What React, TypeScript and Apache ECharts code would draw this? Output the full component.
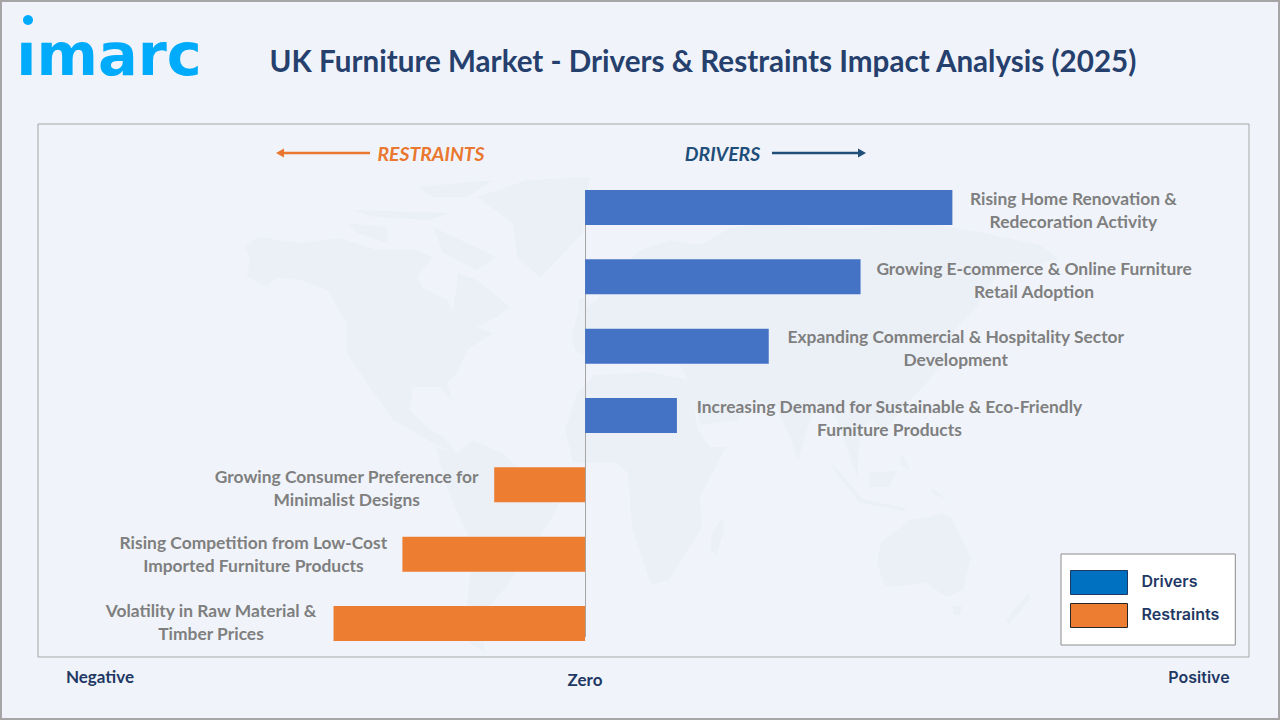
import React, { useEffect, useRef } from "react";
import * as echarts from "echarts";

const titleText = "UK Furniture Market - Drivers & Restraints Impact Analysis (2025)";
const categories = [
  "Rising Home Renovation &\nRedecoration Activity",
  "Growing E-commerce & Online Furniture\nRetail Adoption",
  "Expanding Commercial & Hospitality Sector\nDevelopment",
  "Increasing Demand for Sustainable & Eco-Friendly\nFurniture Products",
  "Growing Consumer Preference for\nMinimalist Designs",
  "Rising Competition from Low-Cost\nImported Furniture Products",
  "Volatility in Raw Material &\nTimber Prices",
];
const driverValues = [4, 3, 2, 1, null, null, null];
const restraintValues = [null, null, null, null, -0.99, -1.99, -2.74];

// label styling: gap from bar end to label centre, and vertical nudge
const labelGaps = [121, 173.5, 187, 212.5, 147.5, 149, 122.5];
const labelNudges = [3, 3, 2, 2, 3, -0.5, -2];

const BG = "#F0F4FA";
const LAND = "#EBF0F7";
const NAVY = "#1F3864";
const TITLE = "#26406E";
const ORANGE = "#ED7D31";
const BLUE = "#4472C4";
const GREY = "#7F7F7F";
const FRAME = "#A6A6A6";
const LOGO = "#00ABFB";
const CAL = "Lato, Carlito, sans-serif";

const land: number[][][] = [
  [[245,247],[257,237],[300,243],[340,238],[377,250],[417,250],[433,257],[417,277],[423,288],[447,300],[453,312],[458,273],[477,280],[510,307],[497,317],[477,327],[493,333],[467,350],[457,373],[447,383],[452,400],[440,387],[413,387],[410,410],[427,427],[443,437],[457,453],[440,447],[393,420],[367,383],[347,353],[347,323],[327,290],[300,280],[277,278],[253,298],[267,287],[247,277],[250,260]],
  [[477,197],[527,180],[590,177],[583,233],[540,278],[517,257],[513,223]],
  [[347,223],[387,227],[387,243],[357,233]],
  [[417,187],[493,180],[467,197],[433,197]],
  [[353,210],[453,213],[427,220],[373,217]],
  [[433,227],[497,257],[477,270],[443,253]],
  [[473,440],[502,453],[559,503],[551,520],[522,563],[506,587],[481,617],[485,653],[469,643],[467,603],[473,547],[449,493],[436,447],[457,453]],
  [[577,393],[595,375],[650,372],[690,380],[698,430],[710,447],[726,447],[700,497],[702,527],[669,580],[651,585],[632,527],[628,473],[616,462],[573,463],[565,430]],
  [[722,517],[724,530],[716,556],[710,550],[712,533]],
  [[881,543],[910,520],[930,517],[942,513],[951,517],[971,557],[963,590],[947,597],[926,583],[885,587],[877,563]],
  [[1028,593],[1030,600],[1008,625],[1006,620]],
  [[952,606],[962,606],[960,615],[954,615]],
  [[869,473],[898,470],[889,487],[869,487]],
  [[832,463],[865,502],[859,502],[834,470]],
  [[857,498],[906,508],[904,511],[857,502]],
  [[930,487],[965,512],[950,500],[935,495]],
  [[902,453],[910,470],[900,465]],
  [[572,335],[578,312],[597,300],[605,280],[622,268],[640,250],[670,240],[700,245],[730,228],[770,222],[810,228],[860,228],[920,222],[980,232],[1040,245],[1058,258],[1030,268],[1010,262],[990,285],[975,310],[955,330],[945,360],[925,385],[905,405],[890,425],[881,430],[872,420],[860,430],[857,477],[844,440],[835,415],[815,405],[798,460],[787,430],[775,405],[750,400],[738,420],[700,425],[690,385],[680,365],[650,355],[620,350],[605,345],[590,360],[575,350]],
  [[578,300],[586,297],[588,312],[579,314]],
];

function arrow(x1: number, x2: number, y: number, color: string) {
  const dir = x2 > x1 ? 1 : -1;
  return [
    { type: "line", shape: { x1, y1: y, x2: x2 - dir * 5, y2: y }, style: { stroke: color, lineWidth: 2.5 } },
    { type: "polygon", shape: { points: [[x2, y], [x2 - dir * 8, y - 4.5], [x2 - dir * 8, y + 4.5]] }, style: { fill: color } },
  ];
}

function txt(text: string, x: number, y: number, size: number, fill: string, font: string, extra: any = {}) {
  return {
    type: "text",
    x,
    y,
    style: { text, fontSize: size, fill, fontFamily: font, fontWeight: 700, textAlign: "center", textVerticalAlign: "middle", ...extra },
  };
}

const labelFor = (i: number) => ({
  distance: labelGaps[i],
  offset: [0, labelNudges[i]],
});

export default function App() {
  const ref = useRef<HTMLDivElement>(null);
  useEffect(() => {
    const chart = echarts.init(ref.current!, null, { renderer: "svg" });
    const baseLabel = {
      show: true,
      color: GREY,
      fontFamily: CAL,
      fontWeight: 700,
      fontSize: 17.4,
      lineHeight: 23,
      align: "center",
      verticalAlign: "middle",
      formatter: (p: any) => categories[p.dataIndex],
    };
    const legendFont = { color: NAVY, fontFamily: "Inter, sans-serif", fontWeight: 600, fontSize: 16 };
    chart.setOption({
      animation: false,
      backgroundColor: BG,
      grid: { left: 34.2, width: 1212, top: 172.8, height: 485.4 },
      xAxis: { type: "value", min: -6, max: 7.2, show: false },
      yAxis: { type: "category", data: categories, inverse: true, show: false },
      legend: {
        left: 1061,
        top: 554,
        orient: "vertical",
        backgroundColor: "#FFFFFF",
        borderColor: "#8C8C8C",
        borderWidth: 1,
        padding: [16, 16, 17, 9],
        itemWidth: 57,
        itemHeight: 24,
        itemGap: 8,
        icon: "rect",
        formatter: "{t|{name}}",
        textStyle: {
          ...legendFont,
          rich: { t: { ...legendFont, padding: [0, 0, 4, 9] } },
        },
        data: [
          { name: "Drivers", itemStyle: { color: "#0070C0", borderColor: "#1F3864", borderWidth: 1 } },
          { name: "Restraints", itemStyle: { color: ORANGE, borderColor: "#262626", borderWidth: 1 } },
        ],
      },
      graphic: [
        { type: "rect", shape: { x: 1, y: 1, width: 1278, height: 718 }, style: { fill: BG, stroke: FRAME, lineWidth: 2 } },
        ...land.map((points) => ({ type: "polygon", shape: { points }, style: { fill: LAND } })),
        { type: "rect", shape: { x: 38, y: 124, width: 1211, height: 533 }, style: { fill: "none", stroke: FRAME, lineWidth: 1 } },
        { type: "line", shape: { x1: 585.5, y1: 190, x2: 585.5, y2: 637 }, style: { stroke: FRAME, lineWidth: 1 } },
        txt("imarc", 109, 54, 59, LOGO, "DejaVu Sans"),
        { type: "rect", shape: { x: 18, y: 25, width: 20, height: 17 }, style: { fill: BG } },
        { type: "circle", shape: { cx: 28, cy: 20, r: 5 }, style: { fill: LOGO } },
        txt(titleText, 703, 60, 29.6, TITLE, CAL),
        ...arrow(370, 276, 153, "#E9772F"),
        txt("RESTRAINTS", 431, 153, 19.4, "#E9772F", CAL, { fontStyle: "italic" }),
        txt("DRIVERS", 722.5, 153, 19.4, "#1F4E79", CAL, { fontStyle: "italic" }),
        ...arrow(772, 866, 153, "#1F4E79"),
        txt("Negative", 100, 676, 17, NAVY, CAL),
        txt("Zero", 585, 679, 17, NAVY, CAL),
        txt("Positive", 1199, 677, 16, NAVY, "Inter, sans-serif", { fontWeight: 600 }),
      ],
      series: [
        {
          name: "Drivers",
          type: "bar",
          stack: "impact",
          barWidth: 35,
          itemStyle: { color: BLUE },
          label: { ...baseLabel, position: "right" },
          data: driverValues.map((value, i) => ({ value, label: labelFor(i) })),
        },
        {
          name: "Restraints",
          type: "bar",
          stack: "impact",
          barWidth: 35,
          itemStyle: { color: ORANGE },
          label: { ...baseLabel, position: "left" },
          data: restraintValues.map((value, i) => ({ value, label: labelFor(i) })),
        },
      ],
    });
    return () => chart.dispose();
  }, []);
  return <div ref={ref} style={{ position: "absolute", left: 0, top: 0, width: 1280, height: 720 }} />;
}
